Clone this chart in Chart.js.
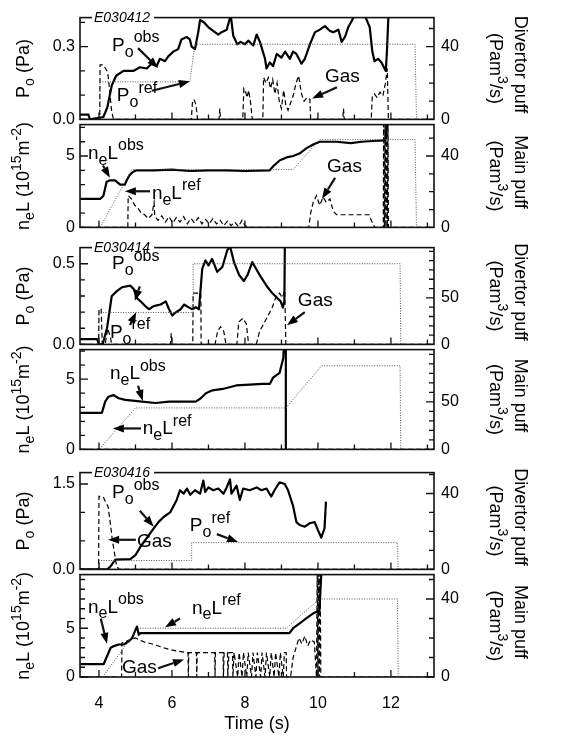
<!DOCTYPE html>
<html>
<head>
<meta charset="utf-8">
<script src="https://cdn.jsdelivr.net/npm/chart.js@4.4.0/dist/chart.umd.min.js"></script>
<style>
  html, body { margin: 0; padding: 0; background: #fff; }
  #wrap { position: relative; width: 565px; height: 739px; overflow: hidden; background: #fff; }
  #wrap canvas { position: absolute; left: 0; }
</style>
</head>
<body>
<div id="wrap"></div>
<script>
const FONT = '"Liberation Sans", Arial, Helvetica, sans-serif';

// time axis
const T_MIN = 3.48, T_MAX = 13.18;
const timeTicks = [4, 5, 6, 7, 8, 9, 10, 11, 12, 13];
const timeLabels = [4, 6, 8, 10, 12];

// ---- shot E030412 ----
const po412Obs = [[3.48,0.02],[3.71,0.02],[3.75,0],[4.12,0.01],[4.23,0.05],[4.35,0.14],[4.47,0.18],[4.67,0.2],[4.94,0.2],[5.12,0.215],[5.31,0.21],[5.44,0.23],[5.58,0.22],[5.67,0.25],[5.81,0.24],[5.9,0.26],[6.04,0.28],[6.17,0.29],[6.26,0.33],[6.4,0.34],[6.49,0.33],[6.54,0.3],[6.63,0.29],[6.72,0.36],[6.77,0.41],[6.88,0.4],[7.0,0.38],[7.13,0.365],[7.27,0.35],[7.36,0.36],[7.5,0.37],[7.61,0.43],[7.68,0.345],[7.79,0.31],[7.88,0.32],[8.0,0.31],[8.09,0.325],[8.23,0.305],[8.32,0.35],[8.41,0.32],[8.55,0.25],[8.59,0.21],[8.68,0.235],[8.77,0.22],[8.87,0.27],[9.0,0.255],[9.1,0.28],[9.23,0.25],[9.32,0.28],[9.41,0.27],[9.55,0.23],[9.64,0.25],[9.78,0.31],[9.92,0.36],[10.05,0.37],[10.19,0.385],[10.33,0.365],[10.42,0.36],[10.56,0.37],[10.65,0.32],[10.74,0.34],[10.83,0.38],[10.92,0.405],[11.01,0.43],[11.28,0.43],[11.42,0.38],[11.49,0.28],[11.55,0.24],[11.65,0.25],[11.74,0.235],[11.86,0.2],[11.89,0.28],[11.98,0.6]];
const po412Ref = [[3.48,0],[4.03,0],[4.03,0.155],[6.49,0.155],[6.63,0.31],[12.66,0.31],[12.7,0],[13.18,0]];
const div412Gas = [[3.48,0],[4.02,0],[4.03,30],[4.12,30],[4.18,28],[4.24,26],[4.3,14],[4.35,4],[4.4,0],[6.53,0],[6.56,9],[6.6,11],[6.66,8],[6.7,0],[7.29,0],[7.31,6],[7.33,0],[7.94,0],[7.97,17],[8.02,15],[8.06,12],[8.1,16],[8.15,10],[8.2,0],[8.49,0],[8.51,23],[8.58,20],[8.64,23],[8.7,17],[8.76,22],[8.82,14],[8.88,20],[8.94,10],[9.0,6],[9.06,16],[9.12,8],[9.18,5],[9.25,9],[9.32,13],[9.4,20],[9.47,24],[9.55,14],[9.62,10],[9.7,12],[9.78,11],[9.8,0],[10.68,0],[10.7,6],[10.72,0],[11.46,0],[11.49,13],[11.55,14],[11.62,12],[11.7,15],[11.78,13],[11.85,20],[11.9,28],[11.93,0],[13.18,0]];
const ne412Obs = [[3.48,2.0],[4.03,2.0],[4.12,2.2],[4.21,3.2],[4.3,3.3],[4.44,3.3],[4.58,3.0],[4.71,3.0],[4.76,3.3],[4.85,3.7],[4.94,3.9],[5.03,4.0],[5.5,4.0],[6.0,4.05],[6.5,3.95],[7.0,4.0],[7.5,4.0],[8.0,3.95],[8.68,4.0],[8.78,4.3],[8.96,4.7],[9.14,4.9],[9.32,5.0],[9.51,5.2],[9.69,5.55],[9.87,5.8],[10.05,6.0],[10.5,6.0],[10.9,5.9],[11.2,6.0],[11.5,6.05],[11.85,6.1],[11.9,7.5]];
const ne412Ref = [[3.48,0],[4.03,0],[4.9,4.05],[9.32,4.05],[10.05,6.15],[12.66,6.15],[12.7,0],[13.18,0]];
const main412Gas = [[3.48,0],[4.79,0],[4.8,17.8],[4.89,16],[4.98,12.4],[5.07,10.7],[5.16,8],[5.25,7.1],[5.35,5],[5.45,7],[5.51,14],[5.53,6],[5.62,4],[5.72,6.5],[5.82,3],[5.92,6],[6.02,2.5],[6.12,5.5],[6.22,3],[6.32,6],[6.42,2],[6.52,5],[6.62,2.5],[6.72,5.5],[6.82,2],[6.92,4.5],[7.02,2],[7.12,5],[7.22,2],[7.32,4],[7.42,1],[7.52,3.5],[7.62,1],[7.72,3],[7.82,0.5],[7.92,4],[8.0,1],[8.1,0],[9.75,0],[9.8,8],[9.87,14],[9.96,17.8],[10.05,12.4],[10.14,17],[10.23,14],[10.33,16],[10.42,9],[10.51,7.1],[11.0,7.1],[11.4,7.1],[11.47,3.6],[11.56,0],[11.79,0],[11.8,60],[11.82,0],[11.84,60],[11.86,0],[11.88,60],[11.9,0],[11.92,60],[11.93,0],[13.18,0]];

// ---- shot E030414 ----
const po414Obs = [[3.48,0.033],[3.95,0.033],[4.0,0],[4.1,0],[4.22,0.1],[4.35,0.3],[4.49,0.33],[4.63,0.354],[4.86,0.364],[4.95,0.344],[5.04,0.286],[5.14,0.267],[5.27,0.237],[5.37,0.218],[5.5,0.237],[5.69,0.247],[5.83,0.267],[5.92,0.218],[6.01,0.179],[6.1,0.198],[6.24,0.218],[6.33,0.247],[6.47,0.228],[6.56,0.218],[6.65,0.23],[6.74,0.218],[6.83,0.47],[6.92,0.52],[7.0,0.49],[7.1,0.53],[7.24,0.45],[7.38,0.48],[7.52,0.587],[7.6,0.6],[7.7,0.51],[7.84,0.43],[7.97,0.393],[8.07,0.43],[8.2,0.51],[8.3,0.47],[8.43,0.42],[8.62,0.354],[8.76,0.315],[8.89,0.286],[8.98,0.267],[9.04,0.228],[9.08,0.267],[9.1,0.8]];
const po414Ref = [[3.48,0],[4.0,0],[4.0,0.198],[6.58,0.198],[6.58,0.5],[12.25,0.5],[12.27,0],[13.18,0]];
const div414Gas = [[3.48,0],[3.99,0],[4.0,38],[4.06,38],[4.09,0],[4.17,0],[4.24,17],[4.31,8],[4.35,0],[5.96,0],[5.98,12],[6.0,0],[6.57,0],[6.58,55],[6.79,55],[6.8,0],[7.18,0],[7.25,14],[7.33,19],[7.42,14],[7.48,0],[7.78,0],[7.83,24],[7.94,28],[8.04,22],[8.1,0],[8.31,0],[8.4,14],[8.5,21],[8.62,30],[8.75,40],[8.86,52],[8.95,55],[9.02,50],[9.09,58],[9.12,0],[13.18,0]];
const ne414Obs = [[3.48,2.6],[4.08,2.6],[4.17,3.4],[4.26,3.75],[4.4,3.86],[4.54,3.64],[4.72,3.52],[5.18,3.4],[5.55,3.3],[5.92,3.4],[6.65,3.4],[6.79,3.64],[6.93,4.0],[7.11,4.2],[7.39,4.3],[7.76,4.55],[8.49,4.66],[8.68,4.66],[8.77,5.1],[8.95,5.45],[9.05,6.5],[9.08,8],[9.12,8],[9.12,0]];
const ne414Ref = [[3.48,0],[4.0,0],[5.0,2.95],[9.12,2.95],[10.1,5.95],[12.25,5.95],[12.27,0],[13.18,0]];
const main414Gas = [[3.48,0],[13.18,0]];

// ---- shot E030416 ----
const po416Obs = [[3.48,0],[4.23,0],[4.32,0.056],[4.45,0.17],[4.86,0.18],[5.0,0.25],[5.13,0.39],[5.32,0.56],[5.5,0.72],[5.63,0.83],[5.77,0.92],[5.95,1.0],[6.04,1.11],[6.13,1.22],[6.22,1.39],[6.32,1.33],[6.41,1.42],[6.5,1.31],[6.63,1.39],[6.77,1.33],[6.86,1.56],[6.91,1.36],[7.0,1.44],[7.13,1.39],[7.27,1.42],[7.41,1.33],[7.5,1.44],[7.59,1.58],[7.63,1.33],[7.77,1.47],[7.86,1.22],[7.95,1.42],[8.13,1.39],[8.32,1.44],[8.45,1.39],[8.59,1.42],[8.72,1.28],[8.81,1.39],[8.95,1.53],[9.09,1.5],[9.18,1.39],[9.32,1.11],[9.41,0.83],[9.5,0.78],[9.64,0.75],[9.77,0.81],[9.91,0.83],[10.0,0.69],[10.09,0.56],[10.18,0.72],[10.22,1.19]];
const po416Ref = [[3.48,0],[4.0,0],[4.0,0.156],[6.54,0.156],[6.54,0.47],[12.18,0.47],[12.2,0],[13.18,0]];
const div416Gas = [[3.48,0],[3.99,0],[4.0,38.5],[4.12,38],[4.17,36],[4.25,33],[4.32,23],[4.37,15],[4.43,8],[4.48,2],[4.55,0],[13.18,0]];
const ne416Obs = [[3.48,1.33],[4.13,1.33],[4.32,3.0],[4.41,3.17],[4.54,3.33],[4.68,3.33],[4.82,3.67],[4.91,4.0],[5.0,4.83],[5.04,5.17],[5.09,4.33],[5.13,4.5],[9.22,4.5],[9.32,5.0],[9.5,5.5],[9.68,6.0],[9.86,6.5],[10.04,6.83],[10.09,10.5]];
const ne416Ref = [[3.48,0],[4.1,0],[5.07,5.0],[9.13,5.0],[10.04,8.0],[12.18,8.0],[12.2,0],[13.18,0]];
const main416Gas = [[3.48,0],[4.62,0],[4.63,17.5],[4.72,18],[4.82,19],[5.0,20],[5.23,18],[5.5,16.7],[5.77,15],[5.95,14],[6.13,13.3],[6.41,12.5],[6.44,12.5],[6.45,0],[6.46,12.5],[6.67,12.5],[6.68,0],[6.69,12.5],[7.17,12.5],[7.18,0],[7.19,12.5],[7.4,12.5],[7.41,0],[7.43,12.5],[7.52,12.5],[7.53,0],[7.56,12.5],[7.66,12.5],[7.67,0],[7.7,12.5],[7.8,0],[7.84,12.5],[7.92,0],[7.96,12.5],[8.05,0],[8.09,12.5],[8.18,0],[8.22,12.5],[8.3,0],[8.34,12.5],[8.43,0],[8.47,12.5],[8.55,0],[8.59,12.5],[8.68,0],[8.72,12.5],[8.8,0],[8.84,12.5],[8.93,0],[8.97,12.5],[9.05,0],[9.08,12.5],[9.13,12.5],[9.14,0],[9.25,0],[9.32,10],[9.4,15],[9.48,20],[9.56,17],[9.64,21],[9.72,16],[9.8,19],[9.9,18],[9.96,0],[9.98,55],[10.0,0],[10.02,55],[10.04,0],[10.06,55],[10.08,0],[13.18,0]];

// axis ticks and labels
const poTicks412 = [0, 0.1, 0.2, 0.3, 0.4], poLabels412 = [0, 0.3];
const poTicks414 = [0, 0.1, 0.2, 0.3, 0.4, 0.5], poLabels414 = [0, 0.5];
const poTicks416 = [0, 0.5, 1, 1.5], poLabels416 = [0, 1.5];
const neTicks7 = [0, 1, 2, 3, 4, 5, 6, 7], neLabels = [0, 5];
const neTicks10 = [0, 1, 2, 3, 4, 5, 6, 7, 8, 9, 10];
const puffTicks50 = [0, 10, 20, 30, 40, 50], puffLabels40 = [0, 40];
const puffTicks100 = [0, 10, 20, 30, 40, 50, 60, 70, 80, 90, 100], puffLabels50 = [0, 50];

// rich-text pieces: [text, 'sub' | 'sup' | undefined]
const P_OBS = [['P'], ['o', 'sub'], ['obs', 'sup']];
const P_REF = [['P'], ['o', 'sub'], ['ref', 'sup']];
const N_OBS = [['n'], ['e', 'sub'], ['L'], ['obs', 'sup']];
const N_REF = [['n'], ['e', 'sub'], ['L'], ['ref', 'sup']];
const GAS = [['Gas']];
const P_TITLE = [['P'], ['o', 'sub'], [' (Pa)']];
const N_TITLE = [['n'], ['e', 'sub'], ['L (10'], ['15', 'sup'], ['m'], ['-2', 'sup'], [')']];
const PUFF_UNIT = [['(Pam'], ['3', 'sup'], ['/s)']];

const panels = [
  { top: 15, bottom: 122, shot: 'E030412', lMax: 0.42, rMax: 56, lTicks: poTicks412, lLabels: poLabels412, dec: 1,
    rTicks: puffTicks50, rLabels: puffLabels40, lTitle: P_TITLE, rTitle: 'Divertor puff',
    obs: po412Obs, ref: po412Ref, gas: div412Gas,
    notes: [
      { parts: P_OBS, t: 4.36, v: 0.283, arrow: [5.07, 0.294, 5.62, 0.212] },
      { parts: P_REF, t: 4.49, v: 0.075, arrow: [5.45, 0.118, 6.49, 0.157] },
      { parts: GAS, t: 10.19, v: 0.153, arrow: [10.52, 0.133, 9.84, 0.086] }
    ] },
  { top: 122, bottom: 230, lMax: 7.2, rMax: 57.6, lTicks: neTicks7, lLabels: neLabels, dec: 0,
    rTicks: puffTicks50, rLabels: puffLabels40, lTitle: N_TITLE, rTitle: 'Main puff',
    obs: ne412Obs, ref: ne412Ref, gas: main412Gas,
    notes: [
      { parts: N_OBS, t: 3.7, v: 4.8, arrow: [4.11, 4.33, 4.3, 3.47] },
      { parts: N_REF, t: 5.45, v: 2.0, arrow: [5.4, 2.53, 4.71, 2.53] },
      { parts: GAS, t: 10.25, v: 3.87, arrow: [10.47, 3.47, 10.11, 2.0] }
    ] },
  { top: 245, bottom: 347, shot: 'E030414', lMax: 0.6, rMax: 104, lTicks: poTicks414, lLabels: poLabels414, dec: 1,
    rTicks: puffTicks100, rLabels: puffLabels50, lTitle: P_TITLE, rTitle: 'Divertor puff',
    obs: po414Obs, ref: po414Ref, gas: div414Gas,
    notes: [
      { parts: P_OBS, t: 4.36, v: 0.465, arrow: [5.12, 0.36, 4.98, 0.27] },
      { parts: P_REF, t: 4.3, v: 0.04, arrow: [4.85, 0.12, 5.02, 0.2] },
      { parts: GAS, t: 9.45, v: 0.235, arrow: [9.64, 0.2, 9.15, 0.118] }
    ] },
  { top: 347, bottom: 452, lMax: 7.1, rMax: 105, lTicks: neTicks7, lLabels: neLabels, dec: 0,
    rTicks: puffTicks100, rLabels: puffLabels50, lTitle: N_TITLE, rTitle: 'Main puff',
    obs: ne414Obs, ref: ne414Ref, gas: main414Gas,
    notes: [
      { parts: N_OBS, t: 4.3, v: 5.0, arrow: [5.07, 4.53, 5.2, 3.45] },
      { parts: N_REF, t: 5.2, v: 1.08, arrow: [5.15, 1.49, 4.38, 1.49] }
    ] },
  { top: 470, bottom: 572, shot: 'E030416', lMax: 1.7, rMax: 51, lTicks: poTicks416, lLabels: poLabels416, dec: 1,
    rTicks: puffTicks50, rLabels: puffLabels40, lTitle: P_TITLE, rTitle: 'Divertor puff',
    obs: po416Obs, ref: po416Ref, gas: div416Gas,
    notes: [
      { parts: P_OBS, t: 4.36, v: 1.25, arrow: [5.12, 1.03, 5.5, 0.75] },
      { parts: GAS, t: 5.04, v: 0.4, arrow: [5.01, 0.52, 4.25, 0.52] },
      { parts: P_REF, t: 6.49, v: 0.67, arrow: [7.23, 0.62, 7.81, 0.48] }
    ] },
  { top: 572, bottom: 677, lMax: 10.5, rMax: 52.5, lTicks: neTicks10, lLabels: neLabels, dec: 0,
    rTicks: puffTicks50, rLabels: puffLabels40, lTitle: N_TITLE, rTitle: 'Main puff',
    obs: ne416Obs, ref: ne416Ref, gas: main416Gas, last: true,
    notes: [
      { parts: N_OBS, t: 3.7, v: 6.6, arrow: [4.05, 6.0, 4.22, 3.4] },
      { parts: N_REF, t: 6.55, v: 6.5, arrow: [6.22, 6.0, 5.81, 5.1] },
      { parts: GAS, t: 4.63, v: 0.4, arrow: [5.62, 0.9, 6.33, 1.8] }
    ] }
];

function xy(a) { return a.map(p => ({ x: p[0], y: p[1] })); }

function richWidth(ctx, parts, big, small) {
  let w = 0;
  for (const [s, k] of parts) { ctx.font = `${k ? small : big}px ${FONT}`; w += ctx.measureText(s).width; }
  return w;
}
function richDraw(ctx, parts, x, y, big, small) {
  ctx.textAlign = 'left'; ctx.textBaseline = 'alphabetic';
  for (const [s, k] of parts) {
    ctx.font = `${k ? small : big}px ${FONT}`;
    const dy = k === 'sub' ? big * 0.3 : k === 'sup' ? -big * 0.45 : 0;
    ctx.fillText(s, x, y + dy);
    x += ctx.measureText(s).width;
  }
}
function arrow(ctx, x1, y1, x2, y2) {
  const ang = Math.atan2(y2 - y1, x2 - x1), hl = 11, hw = 4;
  const bx = x2 - hl * Math.cos(ang), by = y2 - hl * Math.sin(ang);
  ctx.lineWidth = 2.2;
  ctx.beginPath(); ctx.moveTo(x1, y1); ctx.lineTo(bx, by); ctx.stroke();
  ctx.beginPath();
  ctx.moveTo(x2, y2);
  ctx.lineTo(bx - hw * Math.sin(ang), by + hw * Math.cos(ang));
  ctx.lineTo(bx + hw * Math.sin(ang), by - hw * Math.cos(ang));
  ctx.closePath(); ctx.fill();
}

const deco = {
  id: 'deco',
  afterDraw(chart) {
    const p = chart.options.plugins.deco.panel;
    const ctx = chart.ctx, a = chart.chartArea;
    const xs = chart.scales.x, yl = chart.scales.yL, yr = chart.scales.yR;
    ctx.save();
    ctx.strokeStyle = '#111'; ctx.fillStyle = '#000';
    // frame
    ctx.lineWidth = 1.6;
    ctx.strokeRect(a.left, a.top, a.right - a.left, a.bottom - a.top);
    // inward ticks
    ctx.lineWidth = 1.3;
    ctx.beginPath();
    p.lTicks.forEach(v => {
      const y = yl.getPixelForValue(v), len = p.lLabels.includes(v) ? 8 : 5;
      ctx.moveTo(a.left, y); ctx.lineTo(a.left + len, y);
    });
    p.rTicks.forEach(v => {
      const y = yr.getPixelForValue(v), len = p.rLabels.includes(v) ? 8 : 5;
      ctx.moveTo(a.right, y); ctx.lineTo(a.right - len, y);
    });
    timeTicks.forEach(v => {
      const x = xs.getPixelForValue(v), len = timeLabels.includes(v) ? 7 : 5;
      ctx.moveTo(x, a.bottom); ctx.lineTo(x, a.bottom - len);
    });
    ctx.stroke();
    // shot number on the top frame
    if (p.shot) {
      ctx.font = `italic 14px ${FONT}`;
      const w = ctx.measureText(p.shot).width;
      const x0 = a.left + 14;
      ctx.fillStyle = '#fff';
      ctx.fillRect(x0 - 2, a.top - 6, w + 6, 12);
      ctx.fillStyle = '#000';
      ctx.textAlign = 'left'; ctx.textBaseline = 'middle';
      ctx.fillText(p.shot, x0, a.top + 1);
    }
    // annotations with arrows
    p.notes.forEach(n => {
      richDraw(ctx, n.parts, xs.getPixelForValue(n.t), yl.getPixelForValue(n.v), 19, 16);
      const [t1, v1, t2, v2] = n.arrow;
      arrow(ctx, xs.getPixelForValue(t1), yl.getPixelForValue(v1), xs.getPixelForValue(t2), yl.getPixelForValue(v2));
    });
    // axis titles
    const mid = (a.top + a.bottom) / 2;
    ctx.save();
    ctx.translate(23, mid); ctx.rotate(-Math.PI / 2);
    const lw = richWidth(ctx, p.lTitle, 18, 14);
    richDraw(ctx, p.lTitle, -lw / 2, 6, 18, 14);
    ctx.restore();
    ctx.save();
    ctx.translate(521, mid); ctx.rotate(Math.PI / 2);
    const rw = richWidth(ctx, [[p.rTitle]], 18, 14);
    richDraw(ctx, [[p.rTitle]], -rw / 2 - 4, 6, 18, 14);
    ctx.restore();
    ctx.save();
    ctx.translate(496, mid); ctx.rotate(Math.PI / 2);
    const uw = richWidth(ctx, PUFF_UNIT, 18, 14);
    richDraw(ctx, PUFF_UNIT, -uw / 2, 6, 18, 14);
    ctx.restore();
    ctx.restore();
  }
};

const wrap = document.getElementById('wrap');
const PAD = 14;

panels.forEach(p => {
  const padBottom = p.last ? 0 : PAD;
  const xAxisH = p.last ? 62 : 0;
  const h = (p.bottom - p.top) + PAD + padBottom + xAxisH;
  const cv = document.createElement('canvas');
  cv.width = 565; cv.height = h;
  cv.style.top = (p.top - PAD) + 'px';
  wrap.appendChild(cv);

  const tickFont = { family: FONT, size: 16 };
  const fmt = v => p.dec ? v.toFixed(1) : String(v);

  new Chart(cv, {
    type: 'line',
    data: {
      datasets: [
        { data: xy(p.ref), yAxisID: 'yL', borderColor: '#555', borderWidth: 1, borderDash: [1, 1.5] },
        { data: xy(p.gas), yAxisID: 'yR', borderColor: '#000', borderWidth: 1.2, borderDash: [5, 3] },
        { data: xy(p.obs), yAxisID: 'yL', borderColor: '#000', borderWidth: 2.2, borderJoinStyle: 'round' }
      ]
    },
    options: {
      responsive: false,
      animation: false,
      devicePixelRatio: 1,
      elements: { point: { radius: 0 }, line: { tension: 0, fill: false } },
      layout: { padding: { left: 30, right: 91, top: PAD, bottom: padBottom } },
      plugins: { legend: { display: false }, tooltip: { enabled: false }, deco: { panel: p } },
      scales: {
        x: {
          type: 'linear', min: T_MIN, max: T_MAX, display: !!p.last,
          afterBuildTicks: s => { s.ticks = timeTicks.map(v => ({ value: v })); },
          afterFit: s => { s.height = xAxisH; },
          grid: { display: false, drawTicks: false }, border: { display: false },
          ticks: { autoSkip: false, maxRotation: 0, padding: 17, color: '#000', font: tickFont,
                   callback: v => timeLabels.includes(v) ? String(v) : '' },
          title: { display: true, text: 'Time (s)', color: '#000', font: { family: FONT, size: 18 },
                   padding: { top: 0, bottom: 4 } }
        },
        yL: {
          type: 'linear', position: 'left', min: 0, max: p.lMax,
          afterBuildTicks: s => { s.ticks = p.lTicks.map(v => ({ value: v })); },
          afterFit: s => { s.width = 50; },
          grid: { display: false, drawTicks: false }, border: { display: false },
          ticks: { autoSkip: false, padding: 5, color: '#000', font: tickFont,
                   callback: v => p.lLabels.includes(v) ? fmt(v) : '' }
        },
        yR: {
          type: 'linear', position: 'right', min: 0, max: p.rMax,
          afterBuildTicks: s => { s.ticks = p.rTicks.map(v => ({ value: v })); },
          afterFit: s => { s.width = 40; },
          grid: { display: false, drawTicks: false }, border: { display: false },
          ticks: { autoSkip: false, padding: 7, color: '#000', font: tickFont,
                   callback: v => p.rLabels.includes(v) ? String(v) : '' }
        }
      }
    },
    plugins: [deco]
  });
});
</script>
</body>
</html>
